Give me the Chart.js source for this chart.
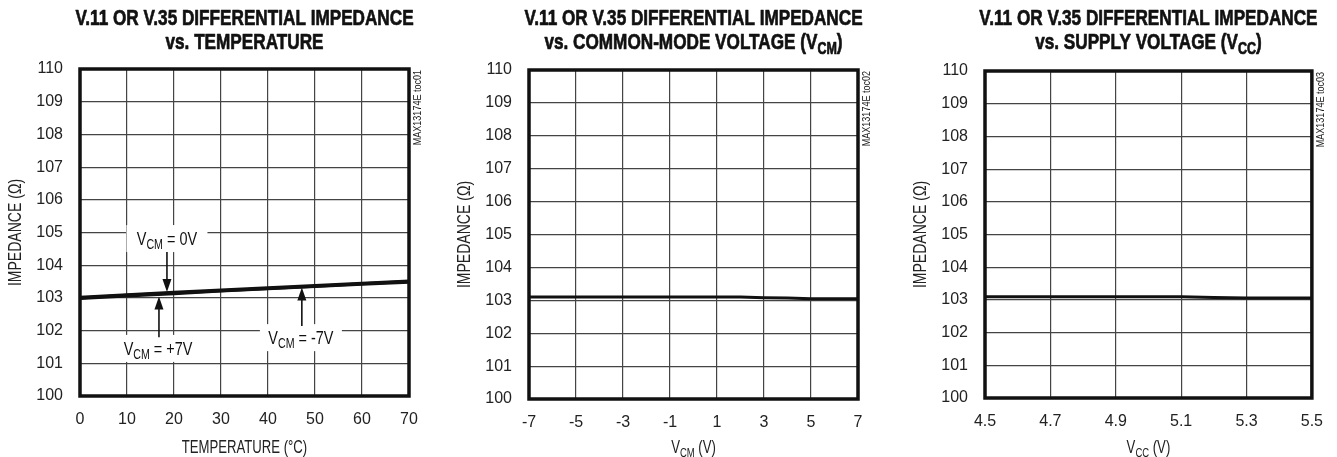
<!DOCTYPE html>
<html>
<head>
<meta charset="utf-8">
<script src="https://cdn.jsdelivr.net/npm/chart.js@4"></script>
<style>
  html, body { margin: 0; padding: 0; background: #fff; }
  #wrap { position: relative; width: 1337px; height: 457px; overflow: hidden; }
  #wrap canvas { position: absolute; top: 0; }
</style>
</head>
<body>
<div id="wrap">
  <canvas id="temp-chart" width="445" height="457" style="left:0"></canvas>
  <canvas id="vcm-chart" width="445" height="457" style="left:450px"></canvas>
  <canvas id="vcc-chart" width="447" height="457" style="left:890px"></canvas>
</div>
<script>
// --- data ---
const impTicks = [100, 101, 102, 103, 104, 105, 106, 107, 108, 109, 110];

const tempC = [0, 10, 20, 30, 40, 50, 60, 70];
const zVcm0 = [103.00, 103.08, 103.15, 103.22, 103.29, 103.36, 103.43, 103.50];
const zVcmPlus7 = [102.98, 103.06, 103.13, 103.21, 103.28, 103.35, 103.42, 103.48];
const zVcmMinus7 = [103.02, 103.10, 103.17, 103.24, 103.31, 103.38, 103.45, 103.52];
const tempTicks = [0, 10, 20, 30, 40, 50, 60, 70];

const vcm = [-7, -6, -5, -4, -3, -2, -1, 0, 1, 2, 3, 4, 5, 6, 7];
const zVsVcm = [103.10, 103.10, 103.10, 103.10, 103.10, 103.10, 103.10, 103.10, 103.10, 103.10, 103.08, 103.07, 103.05, 103.05, 103.05];
const vcmTicks = [-7, -5, -3, -1, 1, 3, 5, 7];

const vcc = [4.5, 4.6, 4.7, 4.8, 4.9, 5.0, 5.1, 5.2, 5.3, 5.4, 5.5];
const zVsVcc = [103.10, 103.10, 103.10, 103.10, 103.10, 103.10, 103.10, 103.07, 103.06, 103.06, 103.06];
const vccTicks = [4.5, 4.7, 4.9, 5.1, 5.3, 5.5];

const FONT = "'Liberation Sans', Arial, sans-serif";
Chart.defaults.font.family = FONT;
Chart.defaults.color = '#222';

// draws a run of text pieces (some subscripted), centred on x, squeezed
// sideways to mimic the condensed face of the original; y is the baseline
function drawParts(ctx, parts, x, y, size, weight, squeeze, stroke) {
  const fontFor = (p) => `${weight} ${p.sub ? Math.round(size * 0.74) : size}px ${FONT}`;
  let w = 0;
  parts.forEach(p => { ctx.font = fontFor(p); w += ctx.measureText(p.t).width; });
  ctx.save();
  ctx.translate(x, y);
  ctx.scale(squeeze, 1);
  ctx.textAlign = 'left';
  ctx.textBaseline = 'alphabetic';
  if (stroke) { ctx.strokeStyle = ctx.fillStyle; ctx.lineWidth = stroke; ctx.lineJoin = 'round'; }
  let cx = -w / 2;
  parts.forEach(p => {
    ctx.font = fontFor(p);
    const dy = p.sub ? size * 0.22 : 0;
    ctx.fillText(p.t, cx, dy);
    if (stroke) ctx.strokeText(p.t, cx, dy);
    cx += ctx.measureText(p.t).width;
  });
  ctx.restore();
  return w * squeeze;
}

const sub = (main, s, rest) => [{ t: main }, { t: s, sub: true }, { t: rest }];

const notesPlugin = {
  id: 'notes',
  afterDatasetsDraw(chart, args, opts) {
    const { ctx, scales: { x, y } } = chart;
    (opts.items || []).forEach(n => {
      ctx.save();
      // white box behind the label
      const tx = x.getPixelForValue(n.x), ty = y.getPixelForValue(n.y);
      ctx.fillStyle = '#fff';
      ctx.fillRect(tx - n.w / 2, ty - 13, n.w, 27);
      ctx.fillStyle = '#111';
      drawParts(ctx, n.text, tx, ty + 7, 19, 'normal', 0.76);
      // arrow
      const ax = x.getPixelForValue(n.ax);
      const y0 = y.getPixelForValue(n.from), y1 = y.getPixelForValue(n.to);
      const dir = y1 > y0 ? 1 : -1;
      ctx.strokeStyle = '#111';
      ctx.lineWidth = 1.6;
      ctx.beginPath();
      ctx.moveTo(ax, y0);
      ctx.lineTo(ax, y1 - dir * 10);
      ctx.stroke();
      ctx.beginPath();
      ctx.moveTo(ax, y1);
      ctx.lineTo(ax - 4.5, y1 - dir * 13);
      ctx.lineTo(ax + 4.5, y1 - dir * 13);
      ctx.closePath();
      ctx.fill();
      ctx.restore();
    });
  }
};

const decorPlugin = {
  id: 'decor',
  afterDraw(chart, args, opts) {
    const { ctx, chartArea: a } = chart;
    const cx = (a.left + a.right) / 2;
    ctx.save();
    // heavy frame round the plot
    ctx.strokeStyle = '#111';
    ctx.lineWidth = 3.5;
    ctx.strokeRect(a.left, a.top, a.right - a.left, a.bottom - a.top);

    ctx.fillStyle = '#111';
    drawParts(ctx, opts.title[0], cx, 25, 22, 'bold', 0.78, 0.7);
    drawParts(ctx, opts.title[1], cx, 49, 22, 'bold', 0.78, 0.7);

    ctx.fillStyle = '#222';
    drawParts(ctx, opts.xTitle, cx, 453, 18, 'normal', 0.73);

    // y axis title
    ctx.save();
    ctx.translate(a.left - 65, (a.top + a.bottom) / 2);
    ctx.rotate(-Math.PI / 2);
    drawParts(ctx, [{ t: 'IMPEDANCE (\u03A9)' }], 0, 6, 18, 'normal', 0.78);
    ctx.restore();

    // figure code up the right side
    ctx.save();
    ctx.translate(a.right + 9, a.top + 1);
    ctx.rotate(-Math.PI / 2);
    ctx.scale(0.82, 1);
    ctx.font = `11px ${FONT}`;
    ctx.textAlign = 'right';
    ctx.textBaseline = 'middle';
    ctx.fillText(opts.code, 0, 0);
    ctx.restore();
    ctx.restore();
  }
};

class ImpedanceCharts {
  static init() {
    this.build('temp-chart', {
      area: { top: 69, bottom: 396, left: 80, right: 409 },
      width: 445,
      xs: tempC,
      series: [zVcm0, zVcmPlus7, zVcmMinus7],
      lineWidth: 3,
      xMin: 0, xMax: 70, xTicks: tempTicks,
      fmt: v => String(v),
      title: [[{ t: 'V.11 OR V.35 DIFFERENTIAL IMPEDANCE' }], [{ t: 'vs. TEMPERATURE' }]],
      xTitle: [{ t: 'TEMPERATURE (\u00B0C)' }],
      code: 'MAX13174E toc01',
      notes: [
        { text: sub('V', 'CM', ' = 0V'), x: 18.5, y: 104.83, w: 81, ax: 18.5, from: 104.4, to: 103.18 },
        { text: sub('V', 'CM', ' = +7V'), x: 16.6, y: 101.47, w: 74, ax: 16.8, from: 101.8, to: 103.04 },
        { text: sub('V', 'CM', ' = -7V'), x: 47.0, y: 101.8, w: 82, ax: 47.2, from: 102.14, to: 103.32 }
      ]
    });

    this.build('vcm-chart', {
      area: { top: 70, bottom: 399, left: 79, right: 408 },
      width: 445,
      xs: vcm,
      series: [zVsVcm],
      lineWidth: 3,
      xMin: -7, xMax: 7, xTicks: vcmTicks,
      fmt: v => String(v),
      title: [[{ t: 'V.11 OR V.35 DIFFERENTIAL IMPEDANCE' }], [{ t: 'vs. COMMON-MODE VOLTAGE (V' }, { t: 'CM', sub: true }, { t: ')' }]],
      xTitle: sub('V', 'CM', ' (V)'),
      code: 'MAX13174E toc02',
      notes: []
    });

    this.build('vcc-chart', {
      area: { top: 71, bottom: 398, left: 95, right: 423 },
      width: 447,
      xs: vcc,
      series: [zVsVcc],
      lineWidth: 3,
      xMin: 4.5, xMax: 5.5, xTicks: vccTicks,
      fmt: v => v.toFixed(1),
      title: [[{ t: 'V.11 OR V.35 DIFFERENTIAL IMPEDANCE' }], [{ t: 'vs. SUPPLY VOLTAGE (V' }, { t: 'CC', sub: true }, { t: ')' }]],
      xTitle: sub('V', 'CC', ' (V)'),
      code: 'MAX13174E toc03',
      notes: []
    });
  }

  static build(id, cfg) {
    const ctx = document.getElementById(id);
    if (!ctx) return;
    const xAxisHeight = 30;
    const grid = { color: '#444', lineWidth: 1.2, drawTicks: false };

    new Chart(ctx, {
      type: 'line',
      data: {
        datasets: cfg.series.map(ys => ({
          data: cfg.xs.map((x, i) => ({ x, y: ys[i] })),
          borderColor: '#111',
          borderWidth: cfg.lineWidth,
          pointRadius: 0,
          tension: 0,
          fill: false
        }))
      },
      options: {
        responsive: false,
        animation: false,
        layout: {
          padding: {
            left: 0,
            top: cfg.area.top,
            right: cfg.width - cfg.area.right,
            bottom: 457 - cfg.area.bottom - xAxisHeight
          }
        },
        plugins: {
          legend: { display: false },
          tooltip: { enabled: false },
          notes: { items: cfg.notes },
          decor: { title: cfg.title, xTitle: cfg.xTitle, code: cfg.code }
        },
        scales: {
          x: {
            type: 'linear',
            min: cfg.xMin,
            max: cfg.xMax,
            grid,
            border: { display: false },
            afterBuildTicks: s => { s.ticks = cfg.xTicks.map(v => ({ value: v })); },
            afterFit: s => { s.height = xAxisHeight; },
            ticks: { padding: 14, maxRotation: 0, font: { size: 16 }, color: '#222', callback: cfg.fmt }
          },
          y: {
            min: 100,
            max: 110,
            grid,
            border: { display: false },
            afterBuildTicks: s => { s.ticks = impTicks.map(v => ({ value: v })); },
            afterFit: s => { s.width = cfg.area.left; },
            ticks: { padding: 17, font: { size: 16 }, color: '#222' }
          }
        }
      },
      plugins: [notesPlugin, decorPlugin]
    });
  }
}

ImpedanceCharts.init();
</script>
</body>
</html>
